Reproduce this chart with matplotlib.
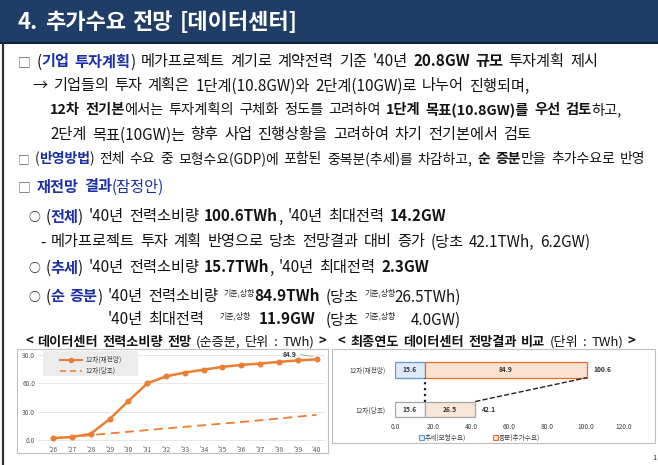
import matplotlib
matplotlib.use('Agg')
import matplotlib.pyplot as plt
from matplotlib.patches import Rectangle
from matplotlib.lines import Line2D

plt.rcParams['font.family'] = ['Noto Sans CJK KR', 'DejaVu Sans']

# ---------------- data ----------------
years = ["'26", "'27", "'28", "'29", "'30", "'31", "'32", "'33",
         "'34", "'35", "'36", "'37", "'38", "'39", "'40"]
renewed = [2.0, 3.2, 6.5, 22.0, 41.0, 59.5, 67.0, 71.0, 74.0, 77.0, 79.0, 80.5, 82.2, 83.8, 84.9]
initial = [2.0, 3.2, 5.2, 7.0, 8.7, 10.5, 12.2, 13.9, 15.6, 17.3, 19.0, 20.8, 22.7, 24.6, 26.5]
line_names = ['12차(재전망)', '12차(당초)']
last_label = '84.9'
line_yticks = [0, 30, 60, 90]

bar_cats = ['12차(당초)', '12차(재전망)']
trend_vals = [15.6, 15.6]
incr_vals = [26.5, 84.9]
bar_totals = [42.1, 100.6]
bar_legend = ['추세(모형수요)', '증분(추가수요)']
bar_xticks = [0, 20, 40, 60, 80, 100, 120]

# ---------------- style ----------------
W, H = 658, 465
NAVY = '#1f3d66'
BLUE = '#1a2fa8'
TXT = '#141414'
ORANGE = '#ed7d31'
PX = 100 / 72.0

fig = plt.figure(figsize=(W / 100, H / 100), dpi=100)
bg = fig.add_axes([0, 0, 1, 1])
bg.set_xlim(0, W)
bg.set_ylim(H, 0)
bg.axis('off')
renderer = fig.canvas.get_renderer()

bg.add_patch(Rectangle((0, 0), W, 42.5, color=NAVY, lw=0))
bg.add_patch(Rectangle((0, 42.5), W, 1.8, color='#0c2142', lw=0))
bg.plot([2.5, 2.5], [44, H], color='#333333', lw=1.6)

STY = {
    'n': (TXT, 'normal', 1.0, 0.0),
    'b': (TXT, 'bold', 1.0, 0.0),
    'B': (BLUE, 'bold', 1.0, 0.0),
    'bl': (BLUE, 'normal', 1.0, 0.0),
    'box': ('#606060', 'normal', 0.85, 0.0),
    'o': (TXT, 'normal', 0.78, 0.0),
    'sup': ('#222222', 'normal', 0.52, 0.42),
    'w': ('white', 'bold', 1.0, 0.0),
}


def text_w(s, fs, weight):
    t = bg.text(0, 0, s, fontsize=fs, weight=weight)
    w = t.get_window_extent(renderer).width
    t.remove()
    return w


def layout(segs, x0, yc, fs, sp_f=0.36, draw=True):
    fpx = fs * PX
    sp = sp_f * fpx
    gap0 = -0.03 * fpx
    base = yc + 0.36 * fpx
    x = x0
    pos = []
    prev_space = True
    for s, st in segs:
        color, weight, scale, rise = STY[st]
        f = fs * scale
        nl = len(s) - len(s.lstrip(' '))
        if nl:
            x += nl * sp
        elif not prev_space:
            x += gap0
        core = s.strip(' ')
        words = core.split(' ')
        start = x
        for i, wd in enumerate(words):
            if i > 0:
                x += sp
            if wd == '':
                continue
            if draw:
                bg.text(x, base - rise * fpx, wd, fontsize=f, color=color,
                        weight=weight, ha='left', va='baseline')
            x += text_w(wd, f, weight)
        pos.append((start, x))
        nt = len(s) - len(s.rstrip(' '))
        x += nt * sp
        prev_space = nt > 0
    return x, pos


def fit(segs, x0, x1, sp_f=0.36, guess=10.0):
    w, _ = layout(segs, 0, 0, guess, sp_f, draw=False)
    return guess * (x1 - x0) / w


# ---------------- title ----------------
title = [("4. 추가수요 전망 [데이터센터]", 'w')]
fs_t = fit(title, 18, 297, sp_f=0.3)
layout(title, 18, 21, fs_t, sp_f=0.3)

# ---------------- body ----------------
L1 = [("□ ", 'box'), ("(", 'n'), ("기업 투자계획", 'B'), (")", 'n'),
      (" 메가프로젝트 계기로 계약전력 기준 '40년 ", 'n'), ("20.8GW 규모", 'b'),
      (" 투자계획 제시", 'n')]
L2 = [("→ 기업들의 투자 계획은 1단계(10.8GW)와 2단계(10GW)로 나누어 진행되며,", 'n')]
L3 = [("12차 전기본", 'b'), ("에서는 투자계획의 구체화 정도를 고려하여 ", 'n'),
      ("1단계 목표(10.8GW)를 우선 검토", 'b'), ("하고,", 'n')]
L4 = [("2단계 목표(10GW)는 향후 사업 진행상황을 고려하여 차기 전기본에서 검토", 'n')]
L5 = [("□ ", 'box'), ("(", 'n'), ("반영방법", 'B'), (")", 'n'),
      (" 전체 수요 중 모형수요(GDP)에 포함된 중복분(추세)를 차감하고, ", 'n'),
      ("순 증분", 'b'), ("만을 추가수요로 반영", 'n')]
L6 = [("□ ", 'box'), ("재전망 결과", 'B'), ("(잠정안)", 'bl')]
L7 = [("○ ", 'o'), ("(", 'n'), ("전체", 'B'), (")", 'n'), (" '40년 전력소비량 ", 'n'),
      ("100.6TWh", 'b'), (", '40년 최대전력 ", 'n'), ("14.2GW", 'b')]
L8 = [("- 메가프로젝트 투자 계획 반영으로 당초 전망결과 대비 증가 (당초 42.1TWh, 6.2GW)", 'n')]
L9 = [("○ ", 'o'), ("(", 'n'), ("추세", 'B'), (")", 'n'), (" '40년 전력소비량 ", 'n'),
      ("15.7TWh", 'b'), (", '40년 최대전력 ", 'n'), ("2.3GW", 'b')]
L10 = [("○ ", 'o'), ("(", 'n'), ("순 증분", 'B'), (")", 'n'), (" '40년 전력소비량 ", 'n'),
       ("기준,상향", 'sup'), ("84.9TWh", 'b'), (" (당초 ", 'n'), ("기준,상향", 'sup'),
       ("26.5TWh)", 'n')]

fs = fit(L10, 28, 460)
fs5 = min(fs, fit(L5, 18, 645))
fs3 = min(fs, fit(L3, 50, 620))
layout(L1, 18, 61, fs)
layout(L2, 32, 85, fs)
layout(L3, 50, 109, fs3)
layout(L4, 50, 134, fs)
layout(L5, 18, 158, fs5)
layout(L6, 18, 186, fs)
layout(L7, 28, 216, fs)
layout(L8, 40, 241, fs)
layout(L9, 28, 267, fs)
_, p10 = layout(L10, 28, 296, fs)

# line 11 aligned to line 10
y11 = 319
x_a = p10[4][0]
layout([("'40년 최대전력", 'n')], x_a, y11, fs)
layout([("기준,상향", 'sup')], p10[5][0] - 0.3 * fs * PX, y11, fs)
layout([("11.9GW", 'b')], p10[6][0] + 0.3 * fs * PX, y11, fs)
layout([("(당초", 'n')], p10[7][0], y11, fs)
layout([("기준,상향", 'sup')], p10[8][0], y11, fs)
w40 = text_w("4.0GW)", fs, 'normal')
layout([("4.0GW)", 'n')], p10[9][1] - w40, y11, fs)

# ---------------- chart titles ----------------
CT1 = [("<", 'b'), (" 데이터센터 전력소비량 전망 ", 'b'), ("(순증분, 단위 : TWh) ", 'n'), (">", 'b')]
CT2 = [("<", 'b'), (" 최종연도 데이터센터 전망결과 비교 ", 'b'), ("(단위 : TWh) ", 'n'), (">", 'b')]
fs_c = fit(CT1, 25, 325, sp_f=0.34)
layout(CT1, 25, 341, fs_c, sp_f=0.34)
layout(CT2, 338, 341, fs_c, sp_f=0.34)

# frames
bg.add_patch(Rectangle((17, 348.5), 311, 104.5, fill=False, ec='#bfbfbf', lw=0.8))
bg.add_patch(Rectangle((332, 348.5), 323, 94.5, fill=False, ec='#bfbfbf', lw=0.8))


def px_axes(l, t, r, b):
    return fig.add_axes([l / W, 1 - b / H, (r - l) / W, (b - t) / H])


TICK_FS = 4.8
TICK_C = '#595959'

# ---------------- line chart ----------------
ax1 = px_axes(38, 349.75, 325, 442.9)
xi = list(range(len(years)))
ax1.plot(xi, initial, color=ORANGE, lw=1.3, ls=(0, (5, 3)), zorder=3)
ax1.plot(xi, renewed, color=ORANGE, lw=1.8, marker='o', ms=3.3, zorder=4)
ax1.set_xlim(-0.8, 14.45)
ax1.set_ylim(-3, 95)
ax1.set_yticks(line_yticks)
ax1.set_yticklabels([f'{v:.1f}' for v in line_yticks])
ax1.set_xticks(xi)
ax1.set_xticklabels(years)
ax1.tick_params(length=0, labelsize=TICK_FS, colors=TICK_C, pad=2)
for s in ax1.spines.values():
    s.set_visible(False)
ax1.grid(axis='y', color='#e3e3e3', lw=0.6)
ax1.set_axisbelow(True)
ax1.patch.set_alpha(0)

ax1.text(12.6, 90.5, last_label, fontsize=TICK_FS, weight='bold', color='#333333',
         ha='center', va='center')
ax1.plot([13.15, 13.8], [90.0, 87.8], color='#999999', lw=0.5)

# legend (in page pixel coords)
T = bg.transData
ax1.add_patch(Rectangle((43, 351), 95, 25, color='#ececec', lw=0, transform=T,
                        zorder=5, clip_on=False))
ax1.add_line(Line2D([60, 82], [360, 360], color=ORANGE, lw=1.5, transform=T,
                    zorder=6, clip_on=False))
ax1.add_line(Line2D([71], [360], color=ORANGE, marker='o', ms=3.0, transform=T,
                    zorder=6, clip_on=False))
ax1.add_line(Line2D([60, 82], [371, 371], color=ORANGE, lw=1.1, ls=(0, (4, 2.5)),
                    transform=T, zorder=6, clip_on=False))
for yy, nm in zip([360, 371], line_names):
    ax1.text(85, yy, nm, fontsize=TICK_FS, color='#404040', va='center', ha='left',
             transform=T, zorder=7, clip_on=False)

# ---------------- bar chart ----------------
ax2 = px_axes(395, 349.8, 624, 421.4)
yb = [0, 1]
ax2.barh(yb, trend_vals, height=0.40, color=['#fafafa', '#deebf7'],
         edgecolor=['#a6a6a6', '#5b9bd5'], lw=0.9, zorder=3)
ax2.barh(yb, incr_vals, left=trend_vals, height=0.40, color=['#f8e6d9', '#fbe2d0'],
         edgecolor=['#a6a6a6', '#e0702a'], lw=0.9, zorder=3)
for y, tv, iv, tot in zip(yb, trend_vals, incr_vals, bar_totals):
    ax2.text(tv / 2, y, f'{tv:.1f}', fontsize=TICK_FS, weight='bold', color='#333333',
             ha='center', va='center', zorder=5)
    ax2.text(tv + iv / 2, y, f'{iv:.1f}', fontsize=TICK_FS, weight='bold', color='#333333',
             ha='center', va='center', zorder=5)
    ax2.text(tot + 3.5, y, f'{tot:.1f}', fontsize=TICK_FS, weight='bold', color='#333333',
             ha='left', va='center', zorder=5)
ax2.plot([trend_vals[1], trend_vals[1]], [0.2, 0.8], color='#222222', ls=':', lw=1.6, zorder=4)
ax2.plot([bar_totals[0], bar_totals[1]], [0.2, 0.8], color='#222222', ls='--', lw=1.0, zorder=4)
ax2.set_xlim(0, 120)
ax2.set_ylim(-0.3, 1.5)
ax2.set_xticks(bar_xticks)
ax2.set_xticklabels([f'{v:.1f}' for v in bar_xticks])
ax2.set_yticks(yb)
ax2.set_yticklabels(bar_cats)
ax2.tick_params(length=0, labelsize=TICK_FS, colors='#404040')
ax2.tick_params(axis='y', pad=7)
ax2.tick_params(axis='x', pad=1.5)
for s in ax2.spines.values():
    s.set_visible(False)
ax2.patch.set_alpha(0)

# bar legend
for x0, fc, ec, nm in zip([418.5, 492.5], ['#deebf7', '#fbe2d0'], ['#5b9bd5', '#e0702a'], bar_legend):
    bg.add_patch(Rectangle((x0, 434.8), 5, 5, fc=fc, ec=ec, lw=0.8))
    bg.text(x0 + 6.5, 437.3, nm, fontsize=TICK_FS, color='#404040', ha='left', va='center')

bg.text(657, 458, '1', fontsize=5.5, color='#333333', ha='right', va='center')

fig.savefig('out.png', dpi=100)
